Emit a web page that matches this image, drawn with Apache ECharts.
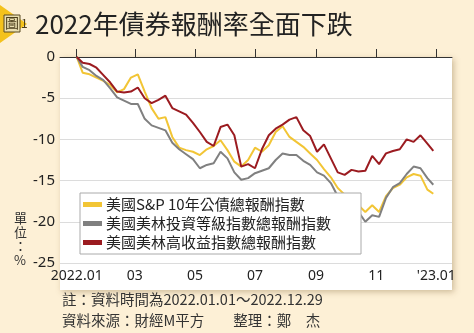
<!DOCTYPE html>
<html>
<head>
<meta charset="utf-8">
<script src="https://cdn.jsdelivr.net/npm/echarts@6/dist/echarts.min.js"></script>
<style>
html,body{margin:0;padding:0;background:#FDF0D6;}
#chart{width:474px;height:333px;}
</style>
</head>
<body>
<div id="chart"></div>
<script>
// ---- data ----
const dates = ['2022-01-01','2022-01-07','2022-01-14','2022-01-21','2022-01-28','2022-02-04','2022-02-11','2022-02-18','2022-02-25',
'2022-03-04','2022-03-11','2022-03-18','2022-03-25','2022-04-01','2022-04-08','2022-04-15','2022-04-22','2022-04-29',
'2022-05-06','2022-05-13','2022-05-20','2022-05-27','2022-06-03','2022-06-10','2022-06-17','2022-06-24',
'2022-07-01','2022-07-08','2022-07-15','2022-07-22','2022-07-29','2022-08-05','2022-08-12','2022-08-19','2022-08-26',
'2022-09-02','2022-09-09','2022-09-16','2022-09-23','2022-09-30','2022-10-07','2022-10-14','2022-10-21','2022-10-28',
'2022-11-04','2022-11-11','2022-11-18','2022-11-25','2022-12-02','2022-12-09','2022-12-16','2022-12-23','2022-12-29'];
const treasury10y = [0,-1.9,-2.1,-2.5,-2.9,-3.4,-4.3,-3.9,-2.5,-2.1,-4.2,-6.2,-7.5,-7.3,-9.7,-11.0,-11.3,-11.5,-11.9,-11.2,-10.8,-10.1,-11.3,-12.7,-13.3,-12.5,
-11.0,-11.5,-10.7,-9.1,-8.4,-9.7,-10.3,-10.9,-11.7,-12.5,-13.6,-14.6,-15.9,-16.7,-16.7,-18.0,-18.8,-18.0,-18.8,-16.9,-15.9,-15.5,-14.6,-14.2,-14.4,-16.1,-16.6];
const investGrade = [0,-1.2,-1.6,-2.3,-2.8,-3.8,-4.9,-5.3,-5.7,-5.7,-7.5,-8.3,-8.6,-8.9,-10.4,-11.2,-11.8,-12.4,-13.5,-13.1,-12.9,-11.5,-12.3,-14.0,-14.9,-14.7,
-14.1,-13.8,-13.5,-12.5,-11.7,-11.9,-11.9,-12.6,-13.1,-14.0,-14.4,-15.3,-16.9,-17.8,-17.6,-18.8,-20.0,-19.2,-19.4,-17.1,-15.8,-15.3,-14.2,-13.3,-13.5,-14.7,-15.5];
const highYield = [0,-0.7,-0.85,-1.3,-2.2,-3.1,-4.2,-4.3,-4.2,-3.7,-5.0,-5.6,-5.2,-4.7,-6.2,-6.6,-7.0,-8.0,-9.1,-10.3,-10.8,-8.5,-8.2,-9.5,-13.3,-13.0,
-13.5,-11.2,-9.5,-8.7,-8.2,-7.6,-7.3,-8.9,-9.6,-11.5,-10.6,-12.3,-14.0,-14.3,-13.7,-13.9,-13.8,-12.0,-13.0,-11.7,-11.4,-11.2,-10.0,-10.3,-9.5,-10.5,-11.4];
const seriesNames = ['美國S&P 10年公債總報酬指數','美國美林投資等級指數總報酬指數','美國美林高收益指數總報酬指數'];
const tickDates = ['2022-01-01','2022-03-01','2022-05-01','2022-07-01','2022-09-01','2022-11-01','2023-01-01'];
const tickLabels = ['2022.01','03','05','07','09','11',"'23.01"];

// ---- build ----
const base = Date.UTC(2022,0,1);
const toDay = s => { const p = s.split('-').map(Number); return (Date.UTC(p[0],p[1]-1,p[2]) - base)/86400000; };
const days = dates.map(toDay);
const tickDays = tickDates.map(toDay);
const labelMap = {}; tickDays.forEach((d,i)=>labelMap[d]=tickLabels[i]);
const pair = arr => arr.map((v,i)=>[days[i], v]);

const colors = ['#F2C535','#808080','#9B1B20'];
const cjk = '"Noto Sans CJK TC","Noto Sans",sans-serif';

const chart = echarts.init(document.getElementById('chart'), null, {renderer:'canvas'});
chart.setOption({
  backgroundColor:'#FDF0D6',
  animation:false,
  color: colors,
  graphic:[
    {type:'rect', z:-10, shape:{x:60,y:57,width:392,height:233},
     style:{fill:'#ffffff', shadowBlur:6, shadowColor:'rgba(120,90,40,0.35)', shadowOffsetX:2, shadowOffsetY:2}},
    {type:'polygon', shape:{points:[[0,5],[27,24],[0,43]]}, style:{fill:'#F4C21C'}},
    {type:'rect', shape:{x:4,y:15,width:16,height:17}, style:{fill:'#EADFB0', stroke:'#5A4A22', lineWidth:1}},
    {type:'text', x:5, y:16, style:{text:'圖', font:'14px '+cjk, fill:'#4A3D1A'}},
    {type:'text', x:21, y:17, style:{text:'1', font:'12px '+cjk, fill:'#4A3D1A'}},
    {type:'text', x:35, y:11, style:{text:'2022年債券報酬率全面下跌', font:'normal 26px '+cjk, fill:'#222222'}},
    {type:'text', x:14, y:211, style:{text:'單\n位\n：\n%', font:'13px '+cjk, fill:'#333', lineHeight:14}},
    {type:'text', x:62, y:292, style:{text:'註：資料時間為2022.01.01～2022.12.29', font:'14.5px '+cjk, fill:'#333'}},
    {type:'text', x:62, y:313, style:{text:'資料來源：財經M平方　　整理：鄭　杰', font:'14.5px '+cjk, fill:'#333'}}
  ],
  grid:{left:60, right:22, top:57, bottom:70, containLabel:false},
  legend:{
    orient:'vertical', left:80, top:193,
    data: seriesNames,
    icon:'rect', itemWidth:19, itemHeight:5, itemGap:4,
    backgroundColor:'#ffffff', borderColor:'#aaaaaa', borderWidth:1, borderRadius:0,
    padding:[4,30,4,3],
    textStyle:{fontSize:15, fontFamily:cjk, color:'#222', padding:[0,0,0,-1]}
  },
  xAxis:{
    type:'value', min:-17, max:381,
    axisLine:{show:true, lineStyle:{color:'#333', width:1}},
    axisTick:{show:true, inside:true, length:8, lineStyle:{color:'#333'}, customValues: tickDays},
    axisLabel:{customValues: tickDays, formatter: v => labelMap[v] || '', fontSize:14, color:'#222', margin:6, fontFamily:'"Noto Sans",sans-serif'},
    splitLine:{show:false}
  },
  yAxis:{
    type:'value', min:-25, max:0, interval:5,
    axisLine:{show:false}, axisTick:{show:false},
    axisLabel:{fontSize:15, color:'#222', margin:5, fontFamily:'"Noto Sans",sans-serif'},
    splitLine:{show:true, lineStyle:{color:'#dcdcdc', width:1}}
  },
  series:[
    {name:seriesNames[0], type:'line', data:pair(treasury10y), symbol:'none', lineStyle:{width:2, color:colors[0]}, z:2},
    {name:seriesNames[1], type:'line', data:pair(investGrade), symbol:'none', lineStyle:{width:2, color:colors[1]}, z:3},
    {name:seriesNames[2], type:'line', data:pair(highYield), symbol:'none', lineStyle:{width:2, color:colors[2]}, z:4}
  ]
});
</script>
</body>
</html>
